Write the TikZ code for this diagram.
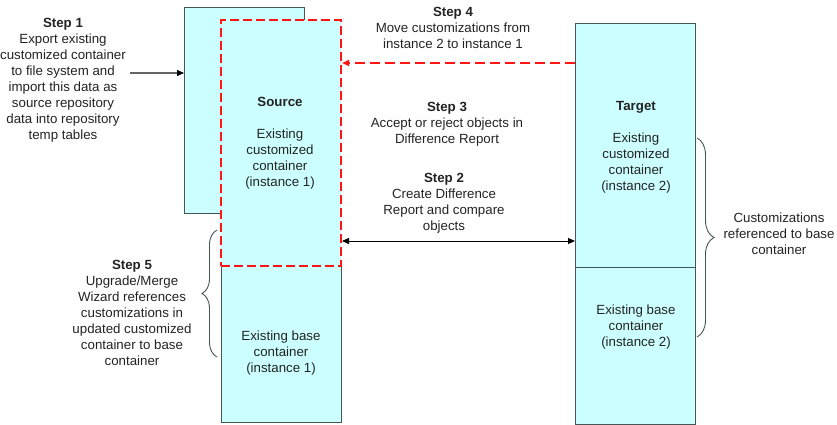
\documentclass[tikz,border=0pt]{standalone}
\usepackage{fontspec}
\setmainfont{Liberation Sans}
\usetikzlibrary{arrows.meta, positioning, calc, decorations.pathreplacing}
\definecolor{boxcyan}{RGB}{204,255,255}
\definecolor{boxedge}{RGB}{70,85,85}
\definecolor{dashred}{RGB}{255,20,20}
\definecolor{txtgray}{RGB}{35,35,35}

\begin{document}
\begin{tikzpicture}[x=1pt, y=-1pt,
  box/.style={rectangle, draw=boxedge, fill=boxcyan, line width=1pt, minimum width=120pt, anchor=north west, inner sep=0pt},
  redbox/.style={box, draw=dashred, line width=2pt, dash pattern=on 9pt off 4pt},
  txt/.style={align=center, text=txtgray, font=\fontsize{13.3}{16}\selectfont, inner sep=0pt},
  arr/.style={-{Triangle[length=7pt, width=6pt, color=black]}, line width=1.2pt, draw=black!60},
  redarr/.style={-{Triangle[length=7pt, width=6pt]}, line width=2pt, draw=dashred, color=dashred, dash pattern=on 10pt off 5pt},
  dblarr/.style={{Triangle[length=7pt, width=6pt]}-{Triangle[length=7pt, width=6pt]}, line width=1pt, draw=black},
  brc/.style={decorate, draw=boxedge, line width=0.9pt}
]
\useasboundingbox (0,0) rectangle (837,425);

% containers
\node[box, minimum height=206pt] (imp) at (184,7) {};
\node[box, minimum height=157pt] (srcb) at (221,265) {};
\node[redbox, minimum height=246pt] (src) at (220,19) {};
\node[box, minimum height=244pt] (tgt) at (575,23) {};
\node[box, minimum height=157pt] (tgtb) at (575,267) {};

% texts in containers
\node[txt] (srct) at (280,143) {\textbf{Source}\\[16pt]Existing\\customized\\container\\(instance 1)};
\node[txt] (srcbt) at (281,353) {Existing base\\container\\(instance 1)};
\node[txt] (tgtt) at (636,147) {\textbf{Target}\\[16pt]Existing\\customized\\container\\(instance 2)};
\node[txt] (tgtbt) at (636,327) {Existing base\\container\\(instance 2)};

% steps
\node[txt] (s1) at (63,80) {\textbf{Step 1}\\Export existing\\customized container\\to file system and\\import this data as\\source repository\\data into repository\\temp tables};
\node[txt] (s4) at (453,28) {\textbf{Step 4}\\Move customizations from\\instance 2 to instance 1};
\node[txt] (s3) at (447,124) {\textbf{Step 3}\\Accept or reject objects in\\Difference Report};
\node[txt] (s2) at (444,203) {\textbf{Step 2}\\Create Difference\\Report and compare\\objects};
\node[txt] (s5) at (132,313) {\textbf{Step 5}\\Upgrade/Merge\\Wizard references\\customizations in\\updated customized\\container to base\\container};
\node[txt] (cref) at (779,234) {Customizations\\referenced to base\\container};

% connectors
\coordinate (s1a) at (130,73);
\coordinate (y4) at (0,63);
\coordinate (y2) at (0,241);
\draw[arr] (s1a) -- (s1a -| imp.west);
\draw[redarr] (tgt.west |- y4) -- (src.east |- y4);
\draw[dblarr] (src.east |- y2) -- (tgt.west |- y2);

% braces
\coordinate (b5a) at (217,357);
\coordinate (b5b) at (217,230);
\coordinate (bra) at (697,138);
\coordinate (brb) at (697,337);
\draw[brc, decoration={brace, amplitude=15pt}] (b5a) -- (b5b);
\draw[brc, decoration={brace, amplitude=17pt}] (bra) -- (brb);
\end{tikzpicture}
\end{document}
